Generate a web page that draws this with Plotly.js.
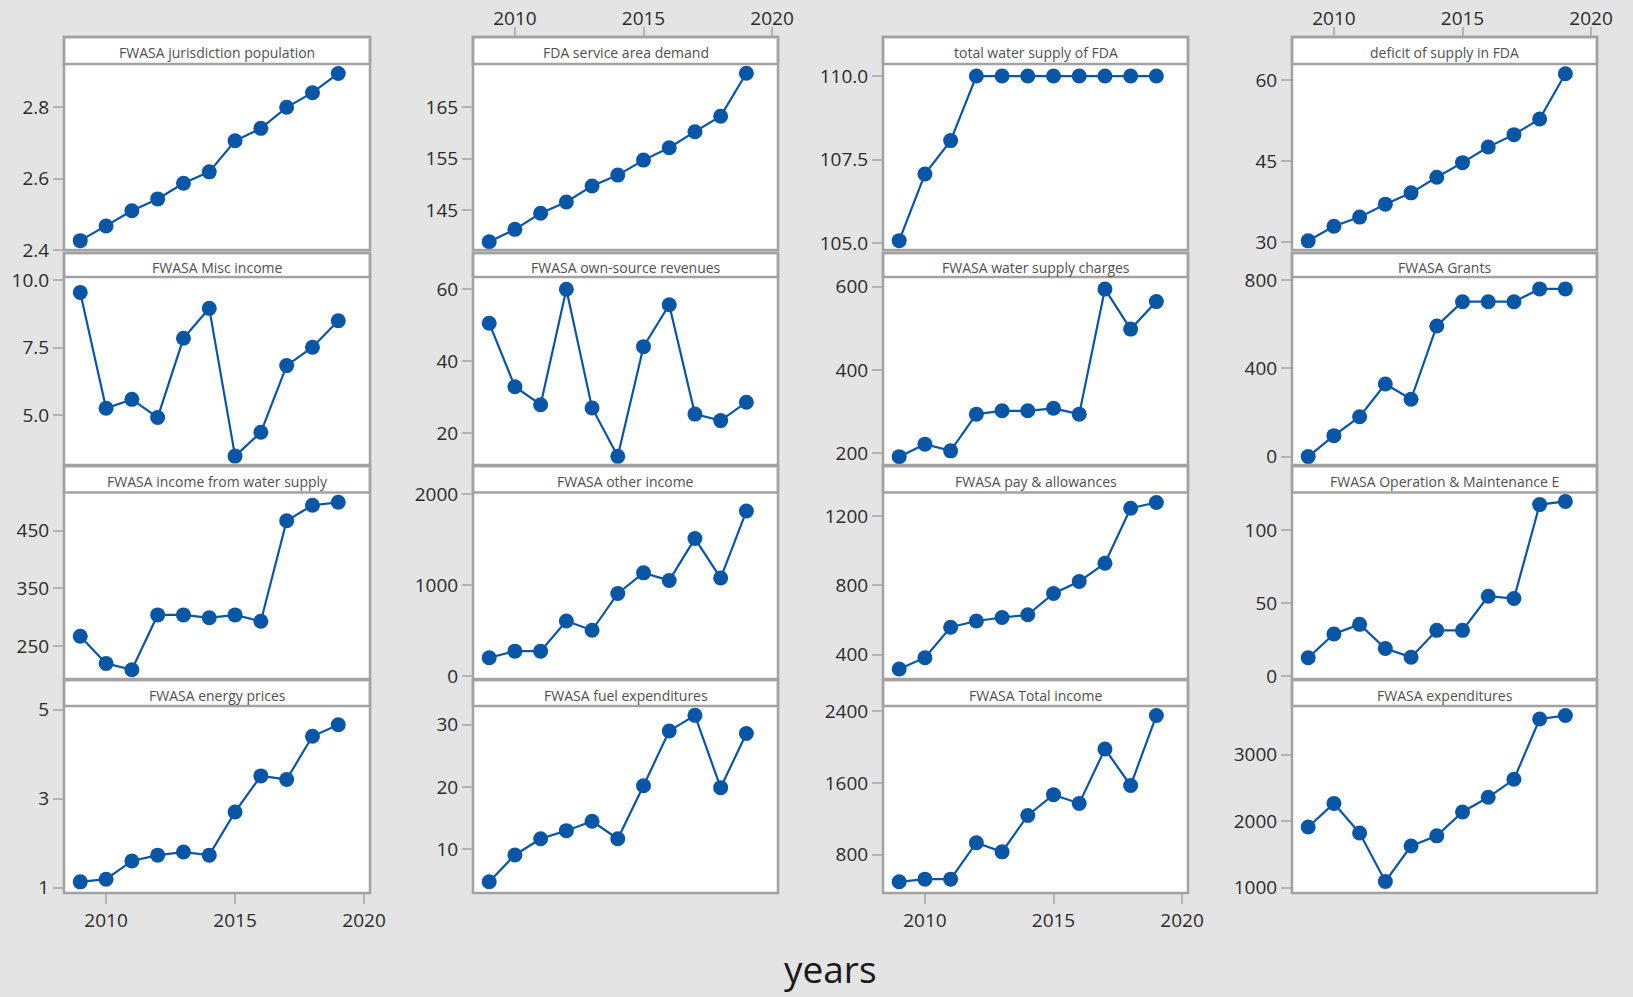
<!DOCTYPE html>
<html><head><meta charset="utf-8">
<script src="https://cdn.plot.ly/plotly-3.0.1.min.js"></script>
<style>html,body{margin:0;padding:0;background:#e4e4e4;overflow:hidden;}</style>
</head><body><div id="chart" style="width:1633px;height:997px;"></div>
<script>
// ---- data ----
const years = [2009, 2010, 2011, 2012, 2013, 2014, 2015, 2016, 2017, 2018, 2019];

const jurisdictionPopulation = [2.426, 2.467, 2.51, 2.543, 2.587, 2.619, 2.706, 2.741, 2.80, 2.841, 2.895];
const fdaServiceAreaDemand = [138.9, 141.3, 144.4, 146.6, 149.7, 151.8, 154.7, 157.1, 160.2, 163.2, 171.5];
const totalWaterSupplyFDA = [105.08, 107.07, 108.07, 110, 110, 110, 110, 110, 110, 110, 110];
const deficitOfSupplyFDA = [30.2, 32.9, 34.6, 37.0, 39.1, 42.0, 44.7, 47.6, 49.9, 52.8, 61.2];

const miscIncome = [9.54, 5.25, 5.58, 4.91, 7.84, 8.95, 3.48, 4.36, 6.83, 7.51, 8.49];
const ownSourceRevenues = [50.5, 32.9, 27.9, 59.9, 27.0, 13.6, 44.0, 55.6, 25.3, 23.5, 28.6];
const waterSupplyCharges = [192, 222, 206, 294, 302, 302, 308, 294, 594, 498, 564];
const grants = [0, 95, 181, 329, 260, 592, 702, 702, 702, 760, 760];

const incomeFromWaterSupply = [267, 220, 209, 304, 304, 299, 304, 293, 467, 494, 499];
const otherIncome = [200, 272, 272, 603, 501, 906, 1132, 1049, 1509, 1075, 1811];
const payAllowances = [318, 383, 559, 595, 615, 631, 754, 823, 928, 1246, 1279];
const operationMaintenance = [12.6, 28.9, 35.5, 18.9, 13.0, 31.4, 31.4, 54.8, 53.2, 117.7, 119.9];

const energyPrices = [1.13, 1.19, 1.60, 1.73, 1.80, 1.73, 2.70, 3.51, 3.43, 4.40, 4.66];
const fuelExpenditures = [4.8, 9.1, 11.7, 13.0, 14.5, 11.7, 20.2, 29.0, 31.5, 19.9, 28.6];
const totalIncome = [495, 525, 525, 932, 830, 1237, 1470, 1371, 1980, 1572, 2354];
const expenditures = [1914, 2268, 1822, 1093, 1627, 1780, 2139, 2360, 2631, 3538, 3590];

const panelTitles = [
  "FWASA jurisdiction population", "FDA service area demand", "total water supply of FDA", "deficit of supply in FDA",
  "FWASA Misc income", "FWASA own-source revenues", "FWASA water supply charges", "FWASA Grants",
  "FWASA income from water supply", "FWASA other income", "FWASA pay & allowances", "FWASA Operation & Maintenance E",
  "FWASA energy prices", "FWASA fuel expenditures", "FWASA Total income", "FWASA expenditures"
];
const series = [
  jurisdictionPopulation, fdaServiceAreaDemand, totalWaterSupplyFDA, deficitOfSupplyFDA,
  miscIncome, ownSourceRevenues, waterSupplyCharges, grants,
  incomeFromWaterSupply, otherIncome, payAllowances, operationMaintenance,
  energyPrices, fuelExpenditures, totalIncome, expenditures
];
const yTickVals = [
  [2.4, 2.6, 2.8], [145, 155, 165], [105, 107.5, 110], [30, 45, 60],
  [5, 7.5, 10], [20, 40, 60], [200, 400, 600], [0, 400, 800],
  [250, 350, 450], [0, 1000, 2000], [400, 800, 1200], [0, 50, 100],
  [1, 3, 5], [10, 20, 30], [800, 1600, 2400], [1000, 2000, 3000]
];
const yTickText = [
  ["2.4", "2.6", "2.8"], ["145", "155", "165"], ["105.0", "107.5", "110.0"], ["30", "45", "60"],
  ["5.0", "7.5", "10.0"], ["20", "40", "60"], ["200", "400", "600"], ["0", "400", "800"],
  ["250", "350", "450"], ["0", "1000", "2000"], ["400", "800", "1200"], ["0", "50", "100"],
  ["1", "3", "5"], ["10", "20", "30"], ["800", "1600", "2400"], ["1000", "2000", "3000"]
];
const xTickVals = [2010, 2015, 2020];
const xTickText = ["2010", "2015", "2020"];
const xAxisTitle = "years";

// ---- layout geometry (pixels) ----
const W = 1633, H = 997;
const colX = [[64, 370], [473, 778], [883, 1188], [1292, 1597]];
const rowY = [[64, 250], [277, 465], [492.5, 679], [706, 893]];
const stripY = [[37, 64], [253, 277], [466, 492.5], [680, 706]];
const yRanges = [
  [2.3997, 2.9215], [137.3, 173.3], [104.8, 110.36], [28.5, 63],
  [3.15, 10.11], [11.2, 63.3], [172, 623], [-38, 814],
  [193, 516], [-34, 2015], [260, 1337], [-2, 126],
  [0.88, 5.08], [3.0, 33.0], [370, 2461], [920, 3734]
];
const xRange = [2008.37, 2020.23];

const px = v => v / W;
const py = v => 1 - v / H;

const blue = '#0a56a6';
const frame = '#a2a2a2';
const fontFam = 'Open Sans, DejaVu Sans, sans-serif';
const tickFont = {family: fontFam, size: 19, color: '#2b2b2b'};

const data = [];
const layout = {
  width: W, height: H,
  margin: {l: 0, r: 0, t: 0, b: 0},
  paper_bgcolor: '#e4e4e4',
  plot_bgcolor: '#ffffff',
  showlegend: false,
  shapes: [],
  annotations: []
};

for (let i = 0; i < 16; i++) {
  const r = Math.floor(i / 4), c = i % 4;
  const n = i + 1;
  const xa = 'xaxis' + (n === 1 ? '' : n);
  const ya = 'yaxis' + (n === 1 ? '' : n);
  const xr = 'x' + (n === 1 ? '' : n);
  const yr = 'y' + (n === 1 ? '' : n);

  data.push({
    x: years, y: series[i], xaxis: xr, yaxis: yr,
    type: 'scatter', mode: 'lines+markers',
    line: {color: blue, width: 2.2},
    marker: {color: blue, size: 15, symbol: 'circle'},
    hoverinfo: 'skip'
  });

  const bottomLabels = (r === 3 && (c === 0 || c === 2));
  const topLabels = (r === 0 && (c === 1 || c === 3));
  const xAxis = {
    domain: [px(colX[c][0]), px(colX[c][1])],
    anchor: yr,
    range: xRange,
    showgrid: false, zeroline: false, showline: false,
    tickvals: xTickVals, ticktext: xTickText,
    ticks: (bottomLabels || topLabels) ? 'outside' : '',
    ticklen: 10, tickwidth: 2, tickcolor: '#b4b4b4',
    showticklabels: bottomLabels || topLabels,
    tickfont: tickFont
  };
  if (topLabels) {
    xAxis.anchor = 'free';
    xAxis.position = py(stripY[0][0]);
    xAxis.side = 'top';
    xAxis.ticklabelstandoff = -6;
  }
  if (bottomLabels) {
    xAxis.ticklabelstandoff = 0;
  }
  layout[xa] = xAxis;

  layout[ya] = {
    domain: [py(rowY[r][1]), py(rowY[r][0])],
    anchor: xr,
    range: yRanges[i],
    showgrid: false, zeroline: false, showline: false,
    tickvals: yTickVals[i], ticktext: yTickText[i],
    ticks: 'outside', ticklen: 10, tickwidth: 2, tickcolor: '#b4b4b4',
    tickfont: tickFont
  };

  // strip background
  layout.shapes.push({
    type: 'rect', xref: 'paper', yref: 'paper', layer: 'above',
    x0: px(colX[c][0]), x1: px(colX[c][1]), y0: py(stripY[r][1]), y1: py(stripY[r][0]),
    fillcolor: '#ffffff', line: {color: frame, width: 2.5}
  });
  // panel frame
  layout.shapes.push({
    type: 'rect', xref: 'paper', yref: 'paper', layer: 'above',
    x0: px(colX[c][0]), x1: px(colX[c][1]), y0: py(rowY[r][1]), y1: py(stripY[r][0]),
    fillcolor: 'rgba(0,0,0,0)', line: {color: frame, width: 2.5}
  });
  // strip title
  layout.annotations.push({
    xref: 'paper', yref: 'paper',
    x: px((colX[c][0] + colX[c][1]) / 2), y: py((stripY[r][0] + stripY[r][1]) / 2 + 2.5),
    xanchor: 'center', yanchor: 'middle', showarrow: false,
    text: panelTitles[i],
    font: {family: fontFam, size: 14, color: '#505050'}
  });
}

layout.annotations.push({
  xref: 'paper', yref: 'paper', x: px(830), y: py(968),
  xanchor: 'center', yanchor: 'middle', showarrow: false,
  text: xAxisTitle,
  font: {family: fontFam, size: 37, color: '#1a1a1a'}
});

Plotly.newPlot('chart', data, layout, {staticPlot: true, displayModeBar: false});
</script>
</body></html>
